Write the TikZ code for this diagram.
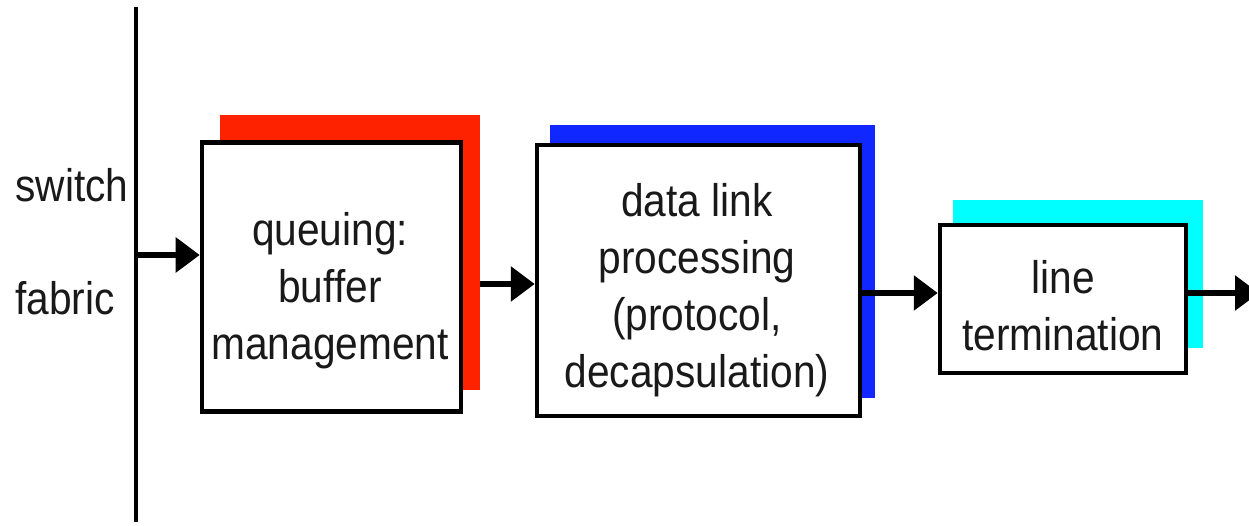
\documentclass[tikz,border=0pt]{standalone}
\usepackage{fontspec}
\setmainfont{Liberation Sans}[FakeStretch=0.89]
\usetikzlibrary{arrows.meta}
\definecolor{shred}{RGB}{255,34,0}
\definecolor{shblue}{RGB}{16,40,255}
\definecolor{shcyan}{RGB}{0,255,255}
\begin{document}
\begin{tikzpicture}[x=0.02cm,y=-0.02cm,
  txt/.style={font=\fontsize{26}{32.4}\selectfont, text=black!90, inner sep=0pt},
  box/.style={draw=black, line width=2.6pt, fill=white, inner sep=0pt},
  shade/.style={fill=#1, draw=none, inner sep=0pt},
  arr/.style={line width=3.3pt, -{Triangle[length=0.48cm, width=0.68cm]}}]
\useasboundingbox (0,0) rectangle (1249,526);
\clip (0,0) rectangle (1249,526);
% fabric line
\coordinate (ftop) at (136,7);
\coordinate (fbot) at (136,522);
\draw[line width=1.9pt] (ftop) -- (fbot);
\node[txt, anchor=base west] (sw) at (15,202) {switch};
\node[txt, anchor=base west] (fb) at (15,315) {fabric};
% shadows
\node[shade=shred, minimum width=5.2cm, minimum height=5.5cm] (red) at (350,252.5) {};
\node[shade=shblue, minimum width=6.5cm, minimum height=5.46cm] (blue) at (712.5,261.5) {};
\node[shade=shcyan, minimum width=5.0cm, minimum height=2.96cm] (cyan) at (1078,274) {};
% boxes
\node[box, minimum width=5.18cm, minimum height=5.38cm] (b1) at (331.5,277) {};
\node[box, minimum width=6.46cm, minimum height=5.42cm] (b2) at (698.5,280.5) {};
\node[box, minimum width=4.92cm, minimum height=2.96cm] (b3) at (1063,299) {};
\node[txt, align=center] (t1) at (330,291) {queuing:\\buffer\\management};
\node[txt, align=center] (t2) at (697,290.5) {data link\\processing\\(protocol,\\decapsulation)};
\node[txt, align=center] (t3) at (1063,306) {line\\termination};
% arrows
\coordinate (a1) at (136,255);
\coordinate (a2) at (0,284);
\coordinate (a3) at (0,293);
\coordinate (a4) at (0,293);
\coordinate (out) at (1259,293);
\draw[arr] (a1) -- (b1.west |- a1);
\draw[arr] (red.east |- a2) -- (b2.west |- a2);
\draw[arr] (b2.east |- a3) -- (b3.west |- a3);
\draw[arr] (b3.east |- a4) -- (out);
\end{tikzpicture}
\end{document}
